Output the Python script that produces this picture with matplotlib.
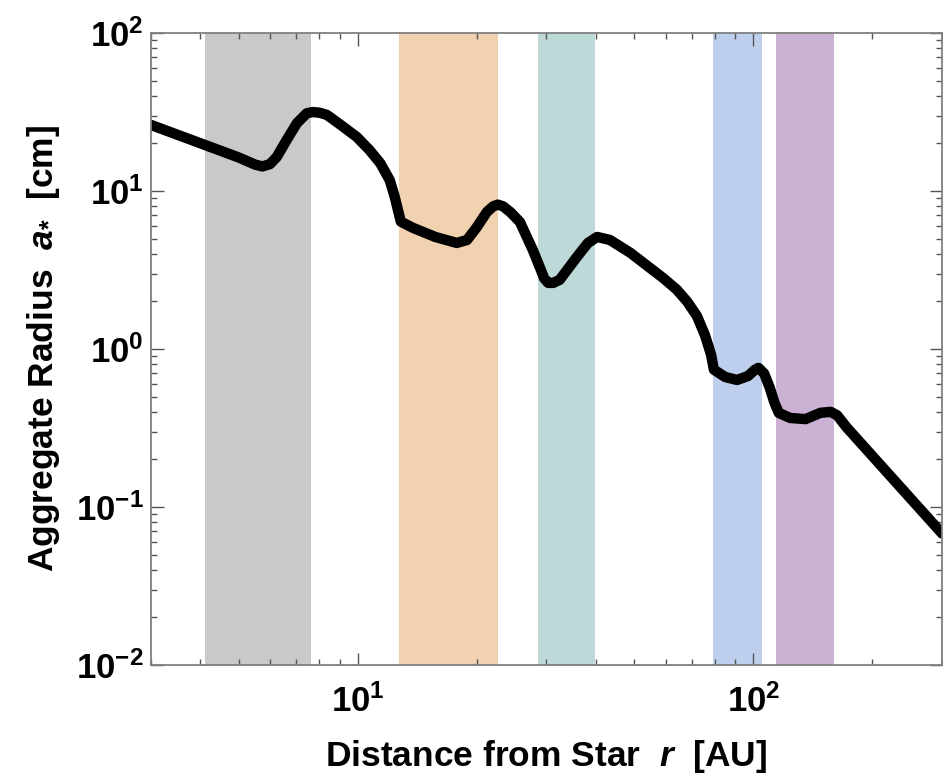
import math
import matplotlib
matplotlib.use("Agg")
import matplotlib.pyplot as plt
from matplotlib.ticker import LogLocator, FuncFormatter, NullFormatter

plt.rcParams["font.family"] = ["Liberation Sans", "DejaVu Sans"]
plt.rcParams["font.weight"] = "bold"
plt.rcParams["mathtext.fontset"] = "custom"
plt.rcParams["mathtext.rm"] = "Liberation Sans:bold"
plt.rcParams["mathtext.bf"] = "Liberation Sans:bold"
plt.rcParams["mathtext.it"] = "Liberation Sans:bold:italic"

# snow-line bands (AU): start, end, colour
band_start = [4.1, 12.7, 28.6, 79.0, 114.0]
band_end = [7.6, 22.6, 39.8, 105.0, 160.0]
band_color = ["#c9c9c9", "#f0d2b0", "#bddad8", "#bdcfec", "#cbb1d4"]

# aggregate radius curve
r_au = [3.0, 5.0, 5.5, 5.74, 6.0, 6.24, 6.61, 7.02, 7.43, 7.69, 8.0, 8.36,
        9.0, 9.94, 10.7, 11.4, 12.05, 12.4, 12.85, 13.8, 15.7, 17.8, 18.9,
        20.0, 21.2, 22.0, 22.6, 23.3, 24.3, 25.7, 27.7, 28.9, 29.6, 30.3,
        31.2, 32.4, 35.8, 38.2, 40.3, 43.4, 48.9, 59.2, 64.0, 68.0, 72.0, 75.5,
        78.2, 79.5, 84.9, 91.0, 97.0, 101.0, 103.0, 106.5, 110.0, 113.0,
        116.0, 124.0, 135.5, 148.0, 157.0, 163.0, 172.0, 300.0]
a_cm = [26.2, 16.3, 14.7, 14.3, 14.8, 16.4, 21.0, 26.9, 31.0, 31.6, 31.3, 30.3,
        26.5, 22.0, 18.2, 15.0, 11.7, 9.2, 6.4, 5.84, 5.12, 4.69, 4.9,
        5.9, 7.36, 8.0, 8.2, 8.0, 7.36, 6.37, 4.24, 3.26, 2.8, 2.62,
        2.62, 2.74, 3.82, 4.69, 5.12, 4.9, 4.06, 2.81, 2.38, 2.0, 1.62, 1.22,
        0.92, 0.74, 0.665, 0.637, 0.675, 0.74, 0.76, 0.7, 0.57, 0.46,
        0.394, 0.366, 0.36, 0.395, 0.40, 0.38, 0.32, 0.068]

fig = plt.figure(figsize=(9.43, 7.76), dpi=100)
ax = fig.add_axes([0.160, 0.143, 0.839, 0.8145])

for s, e, c in zip(band_start, band_end, band_color):
    ax.axvspan(s, e, color=c, lw=0, zorder=1)

ax.plot(r_au, a_cm, color="black", lw=7.5, solid_joinstyle="round",
        solid_capstyle="round", zorder=3)

ax.set_xscale("log")
ax.set_yscale("log")
ax.set_xlim(3, 300)
ax.set_ylim(1e-2, 1e2)

fmt = FuncFormatter(lambda v, p: r"$\mathdefault{10^{%d}}$" % round(math.log10(v)))
ax.xaxis.set_major_locator(LogLocator(base=10, numticks=10))
ax.yaxis.set_major_locator(LogLocator(base=10, numticks=10))
ax.xaxis.set_minor_locator(LogLocator(base=10, subs=range(2, 10), numticks=20))
ax.yaxis.set_minor_locator(LogLocator(base=10, subs=range(2, 10), numticks=20))
ax.xaxis.set_major_formatter(fmt)
ax.yaxis.set_major_formatter(fmt)
ax.xaxis.set_minor_formatter(NullFormatter())
ax.yaxis.set_minor_formatter(NullFormatter())

ax.tick_params(which="both", direction="in", top=True, right=True,
               color="#555555", width=1.0, labelsize=25, zorder=4)
ax.tick_params(which="major", length=9)
ax.tick_params(axis="x", which="major", pad=14)
ax.tick_params(axis="y", which="major", pad=5)
ax.tick_params(which="minor", length=4)

for sp in ax.spines.values():
    sp.set_color("#808080")
    sp.set_linewidth(1.3)
    sp.set_zorder(5)

ax.set_xlabel(r"Distance from Star  $r$  [AU]", fontsize=25.5, fontweight="bold", labelpad=14)
ax.set_ylabel(r"Aggregate Radius  $a_{*}$  [cm]", fontsize=25.5, fontweight="bold", labelpad=10)

fig.savefig("out.png", dpi=100)
